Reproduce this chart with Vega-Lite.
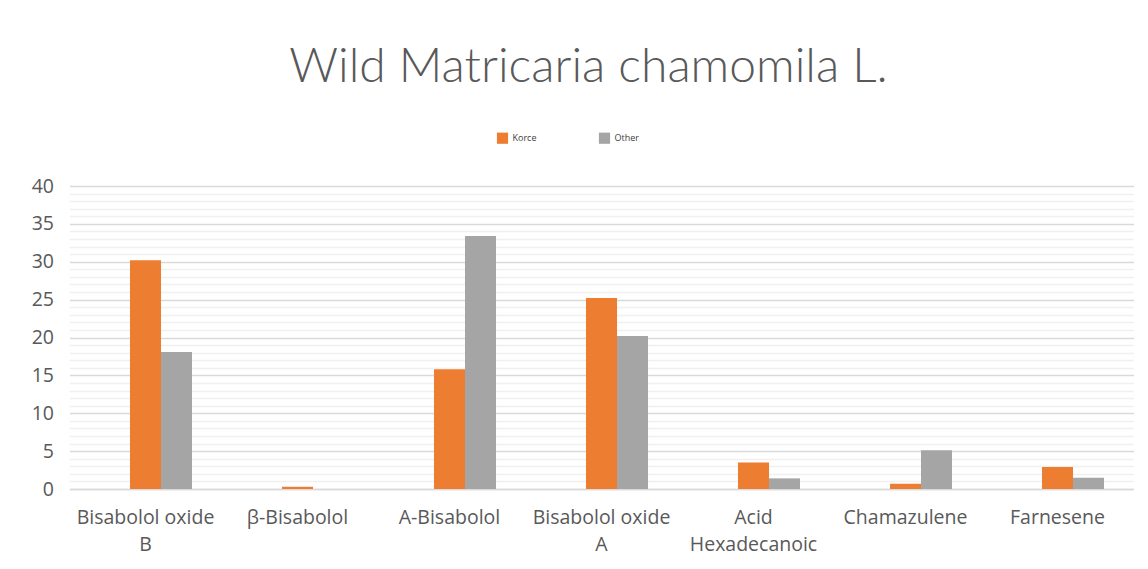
{
  "$schema": "https://vega.github.io/schema/vega-lite/v6.json",
  "width": 1064,
  "height": 303,
  "autosize": {"type": "none"},
  "padding": {"left": 69.5, "top": 186, "right": 14.5, "bottom": 80},
  "background": "white",
  "title": {
    "text": "Wild Matricaria chamomila L.",
    "font": "Lato",
    "fontWeight": 300,
    "fontSize": 48,
    "color": "#595959",
    "anchor": "middle",
    "dx": -13,
    "offset": 40
  },
  "data": {
    "values": [
      {"compound": "Bisabolol oxide|B", "series": "Korce", "value": 30.2},
      {"compound": "Bisabolol oxide|B", "series": "Other", "value": 18.1},
      {"compound": "β-Bisabolol", "series": "Korce", "value": 0.3},
      {"compound": "β-Bisabolol", "series": "Other", "value": 0},
      {"compound": "A-Bisabolol", "series": "Korce", "value": 15.8},
      {"compound": "A-Bisabolol", "series": "Other", "value": 33.4},
      {"compound": "Bisabolol oxide|A", "series": "Korce", "value": 25.2},
      {"compound": "Bisabolol oxide|A", "series": "Other", "value": 20.2},
      {"compound": "Acid|Hexadecanoic", "series": "Korce", "value": 3.5},
      {"compound": "Acid|Hexadecanoic", "series": "Other", "value": 1.4},
      {"compound": "Chamazulene", "series": "Korce", "value": 0.7},
      {"compound": "Chamazulene", "series": "Other", "value": 5.1},
      {"compound": "Farnesene", "series": "Korce", "value": 2.9},
      {"compound": "Farnesene", "series": "Other", "value": 1.5}
    ]
  },
  "mark": {"type": "bar"},
  "encoding": {
    "x": {
      "field": "compound",
      "type": "nominal",
      "sort": null,
      "scale": {"paddingInner": 0.388, "paddingOuter": 0.194},
      "axis": {
        "title": null,
        "labelAngle": 0,
        "labelExpr": "split(datum.value, '|')",
        "labelFont": "Open Sans",
        "labelFontSize": 19.5,
        "labelColor": "#595959",
        "labelPadding": 19,
        "labelLineHeight": 27,
        "ticks": false,
        "domainColor": "#d9d9d9",
        "domainWidth": 1.5,
        "grid": false
      }
    },
    "xOffset": {
      "field": "series",
      "type": "nominal",
      "scale": {"domain": ["Blank", "Korce", "Other"], "paddingInner": 0, "paddingOuter": 0}
    },
    "y": {
      "field": "value",
      "type": "quantitative",
      "scale": {"domain": [0, 40], "nice": false},
      "axis": {
        "title": null,
        "values": [0,1,2,3,4,5,6,7,8,9,10,11,12,13,14,15,16,17,18,19,20,21,22,23,24,25,26,27,28,29,30,31,32,33,34,35,36,37,38,39,40],
        "labelExpr": "datum.value % 5 === 0 ? datum.label : ''",
        "labelFont": "Open Sans",
        "labelFontSize": 19.5,
        "labelColor": "#595959",
        "labelPadding": 16,
        "ticks": false,
        "domain": false,
        "gridColor": {"condition": {"test": "datum.value % 5 === 0", "value": "#d9d9d9"}, "value": "#f0f0f0"},
        "gridWidth": 1.5
      }
    },
    "color": {
      "field": "series",
      "type": "nominal",
      "scale": {"domain": ["Blank", "Korce", "Other"], "range": ["#4472C4", "#ED7D31", "#A5A5A5"]},
      "legend": {
        "title": null,
        "orient": "none",
        "legendX": 427,
        "legendY": -54,
        "direction": "horizontal",
        "values": ["Korce", "Other"],
        "symbolType": "square",
        "symbolSize": 125,
        "symbolStrokeWidth": 0,
        "labelFontSize": 9,
        "labelFont": "Open Sans",
        "labelColor": "#404040",
        "columnPadding": 62
      }
    }
  },
  "config": {
    "view": {"stroke": null}
  }
}
